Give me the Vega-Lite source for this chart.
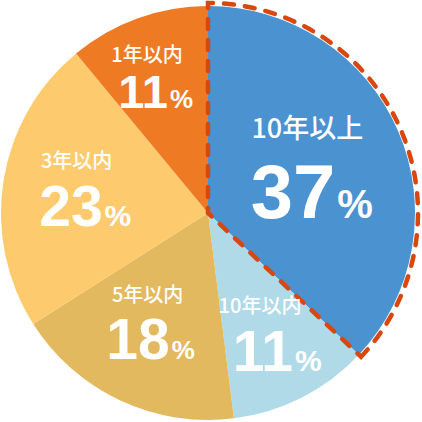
{
  "$schema": "https://vega.github.io/schema/vega-lite/v6.json",
  "width": 416,
  "height": 416,
  "autosize": {"type": "none"},
  "padding": {"left": 0, "top": 5, "right": 6, "bottom": 1},
  "background": "white",
  "view": {"stroke": null},
  "data": {
    "values": [
      {"label": "10年以上", "value": 37, "order": 1},
      {"label": "10年以内", "value": 11, "order": 2},
      {"label": "5年以内", "value": 18, "order": 3},
      {"label": "3年以内", "value": 23, "order": 4},
      {"label": "1年以内", "value": 11, "order": 5}
    ]
  },
  "encoding": {
    "theta": {"field": "value", "type": "quantitative", "stack": true},
    "order": {"field": "order", "type": "quantitative"}
  },
  "layer": [
    {
      "mark": {"type": "arc", "outerRadius": 207},
      "encoding": {
        "color": {
          "field": "label",
          "type": "nominal",
          "legend": null,
          "scale": {
            "domain": ["10年以上", "10年以内", "5年以内", "3年以内", "1年以内"],
            "range": ["#4a92d0", "#b0dae8", "#e3b95f", "#fdcb6e", "#ef7a24"]
          }
        }
      }
    },
    {
      "mark": {
        "type": "arc",
        "outerRadius": 210,
        "fillOpacity": 0,
        "stroke": "#d8480e",
        "strokeWidth": 4.5,
        "strokeDash": [10, 11],
        "strokeCap": "round"
      },
      "encoding": {
        "strokeOpacity": {
          "condition": {"test": "datum.label === '10年以上'", "value": 1},
          "value": 0
        }
      }
    },
    {
      "mark": {
        "type": "text",
        "font": "Noto Sans CJK JP",
        "fontWeight": 500,
        "color": "white",
        "align": "center",
        "baseline": "middle",
        "radius": 130,
        "dx": {"expr": "datum.label === '10年以上' ? -20 : datum.label === '10年以内' ? -7 : datum.label === '5年以内' ? -5 : datum.label === '3年以内' ? -3 : -17"},
        "dy": {"expr": "datum.label === '10年以上' ? -31 : datum.label === '10年以内' ? -22 : datum.label === '5年以内' ? -35 : datum.label === '3年以内' ? -31 : -35"}
      },
      "encoding": {
        "text": {"field": "label", "type": "nominal"},
        "size": {
          "condition": {"test": "datum.label === '10年以上'", "value": 27},
          "value": 20
        }
      }
    },
    {
      "mark": {
        "type": "text",
        "font": "Liberation Sans",
        "fontWeight": "bold",
        "color": "white",
        "align": "right",
        "baseline": "alphabetic",
        "radius": 130,
        "dx": {"expr": "datum.label === '10年以上' ? 8 : datum.label === '10年以内' ? 26 : datum.label === '5年以内' ? 17 : datum.label === '3年以内' ? 23 : 4"},
        "dy": {"expr": "datum.label === '10年以上' ? 57 : datum.label === '10年以内' ? 42 : datum.label === '5年以内' ? 28 : datum.label === '3年以内' ? 33 : 17"}
      },
      "encoding": {
        "text": {"field": "value", "type": "quantitative"},
        "size": {
          "condition": [
            {"test": "datum.label === '10年以上'", "value": 76},
            {"test": "datum.label === '1年以内'", "value": 47}
          ],
          "value": 57
        }
      }
    },
    {
      "mark": {
        "type": "text",
        "font": "Liberation Sans",
        "fontWeight": "bold",
        "color": "white",
        "align": "left",
        "baseline": "alphabetic",
        "radius": 130,
        "text": "%",
        "dx": {"expr": "datum.label === '10年以上' ? 10 : datum.label === '10年以内' ? 28 : datum.label === '5年以内' ? 19 : datum.label === '3年以内' ? 25 : 6"},
        "dy": {"expr": "datum.label === '10年以上' ? 57 : datum.label === '10年以内' ? 42 : datum.label === '5年以内' ? 28 : datum.label === '3年以内' ? 33 : 17"}
      },
      "encoding": {
        "size": {
          "condition": [
            {"test": "datum.label === '10年以上'", "value": 40},
            {"test": "datum.label === '3年以内' || datum.label === '10年以内'", "value": 30}
          ],
          "value": 26
        }
      }
    }
  ]
}
